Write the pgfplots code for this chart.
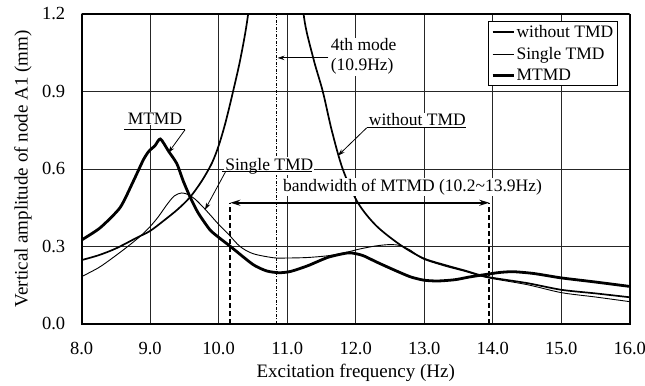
\documentclass[border=0pt]{standalone}
\usepackage{fontspec}
\setmainfont{Liberation Serif}
\usepackage{pgfplots}
\pgfplotsset{compat=1.18}
\usetikzlibrary{arrows.meta}

\pgfplotstableread{
f A
8.00 0.247
8.25 0.266
8.50 0.292
8.80 0.333
9.00 0.360
9.20 0.400
9.40 0.443
9.58 0.490
9.75 0.552
9.90 0.622
10.00 0.690
10.10 0.780
10.21 0.900
10.32 1.030
10.43 1.200
10.55 1.500
10.70 2.200
10.85 3.000
10.92 3.200
11.00 2.800
11.10 2.000
11.18 1.500
11.24 1.200
11.38 1.030
11.52 0.900
11.65 0.750
11.81 0.600
12.03 0.470
12.30 0.380
12.65 0.306
12.98 0.255
13.30 0.228
13.60 0.206
13.92 0.182
14.50 0.158
15.00 0.132
15.50 0.118
16.00 0.103
}\withoutTMD

\pgfplotstableread{
f A
8.00 0.183
8.25 0.218
8.46 0.257
8.65 0.295
8.85 0.338
9.00 0.377
9.12 0.415
9.24 0.460
9.35 0.495
9.46 0.507
9.56 0.500
9.66 0.482
9.78 0.450
9.90 0.415
10.00 0.385
10.15 0.345
10.31 0.300
10.50 0.272
10.80 0.256
11.00 0.255
11.30 0.257
11.60 0.264
11.85 0.276
12.06 0.290
12.30 0.302
12.50 0.307
12.65 0.303
12.80 0.285
12.98 0.252
13.30 0.224
13.60 0.203
13.92 0.179
14.50 0.152
15.00 0.121
15.50 0.104
16.00 0.086
}\singleTMD

\pgfplotstableread{
f A
8.00 0.325
8.27 0.372
8.56 0.450
8.75 0.550
8.90 0.635
8.98 0.668
9.07 0.690
9.15 0.716
9.27 0.668
9.39 0.620
9.48 0.555
9.58 0.493
9.70 0.430
9.87 0.365
10.00 0.335
10.17 0.300
10.50 0.230
10.70 0.205
10.88 0.198
11.05 0.203
11.30 0.225
11.60 0.258
11.90 0.275
12.10 0.265
12.30 0.240
12.55 0.210
12.80 0.182
13.00 0.169
13.20 0.166
13.45 0.171
13.67 0.182
13.92 0.192
14.10 0.199
14.30 0.202
14.60 0.195
15.00 0.178
15.50 0.162
16.00 0.145
}\MTMD

\begin{document}
\begin{tikzpicture}[font=\fontsize{18.5}{21}\selectfont,
  arr/.style={-{Stealth[length=7pt,width=4.5pt]}, line width=0.8pt},
  lab/.style={fill=white, inner sep=1pt, font=\fontsize{17.5}{20}\selectfont}]
\begin{axis}[
  scale only axis, width=548.3pt, height=310pt,
  xmin=8, xmax=16, ymin=0, ymax=1.2,
  xtick={8,9,...,16}, ytick={0,0.3,0.6,0.9,1.2},
  xticklabel style={yshift=-15pt, /pgf/number format/.cd, fixed, fixed zerofill, precision=1, assume math mode=true},
  yticklabel style={xshift=-13pt, /pgf/number format/.cd, fixed, fixed zerofill, precision=1, assume math mode=true},
  major tick length=0pt,
  grid=major, grid style={black!85, line width=0.7pt},
  xlabel={Excitation frequency (Hz)},
  ylabel={Vertical amplitude of node A1 (mm)},
  xlabel style={at={(axis description cs:0.5,-0.158)}, anchor=center, font=\fontsize{19}{22}\selectfont},
  ylabel style={at={(axis description cs:-0.107,0.5)}, anchor=center, font=\fontsize{19}{22}\selectfont},
  legend style={at={(axis description cs:0.978,0.977)}, anchor=north east,
    draw=black, line width=0.8pt, fill=white, inner sep=2.5pt,
    font=\fontsize{17.5}{19}\selectfont, row sep=5pt,
    nodes={inner sep=1.5pt}},
  legend cell align=left,
  legend image code/.code={\draw[#1] (0pt,0pt) -- (21pt,0pt);},
]
\addplot[black, line width=1.7pt, smooth, tension=0.5] table {\withoutTMD};
\addlegendentry{without TMD}
\addplot[black, line width=0.9pt, smooth, tension=0.5] table {\singleTMD};
\addlegendentry{Single TMD}
\addplot[black, line width=2.8pt, smooth, tension=0.4] table {\MTMD};
\addlegendentry{MTMD}

% 4th mode line
\draw[black, line width=0.9pt, dash pattern=on 3pt off 1.5pt on 1pt off 1.5pt] (axis cs:10.85,0) -- (axis cs:10.85,1.2);
% bandwidth
\draw[black, line width=1.7pt, dash pattern=on 5pt off 3pt] (axis cs:10.17,0) -- (axis cs:10.17,0.469);
\draw[black, line width=1.7pt, dash pattern=on 5pt off 3pt] (axis cs:13.95,0) -- (axis cs:13.95,0.469);
\draw[{Stealth[length=10pt,width=6pt]}-{Stealth[length=10pt,width=6pt]}, line width=1.8pt] (axis cs:10.17,0.469) -- (axis cs:13.95,0.469);
\node[lab] at (axis cs:12.83,0.531) {bandwidth of MTMD (10.2\textasciitilde13.9Hz)};

% 4th mode label
\node[lab, anchor=west, align=left] at (axis cs:11.62,1.035) {4th mode\\(10.9Hz)};
\draw[arr] (axis cs:11.60,1.030) -- (axis cs:10.86,1.030);

% MTMD label
\node[lab] at (axis cs:9.07,0.795) {MTMD};
\draw[line width=0.8pt] (axis cs:8.62,0.752) -- (axis cs:9.51,0.752);
\draw[arr] (axis cs:9.51,0.752) -- (axis cs:9.264,0.662);

% Single TMD label
\node[lab] at (axis cs:10.74,0.612) {Single TMD};
\draw[line width=0.8pt] (axis cs:10.05,0.589) -- (axis cs:11.36,0.589);
\draw[arr] (axis cs:10.10,0.589) -- (axis cs:9.80,0.442);

% without TMD label
\node[lab] at (axis cs:12.90,0.790) {without TMD};
\draw[line width=0.8pt] (axis cs:12.16,0.759) -- (axis cs:13.61,0.759);
\draw[arr] (axis cs:12.16,0.759) -- (axis cs:11.74,0.651);

% thick frame
\draw[line width=1.9pt] (rel axis cs:0,0) rectangle (rel axis cs:1,1);
\end{axis}
\pgfresetboundingbox
\path[use as bounding box] ([shift={(-81.7pt,-62pt)}]current axis.south west) rectangle ([shift={(15.3pt,14pt)}]current axis.north east);
\end{tikzpicture}
\end{document}
